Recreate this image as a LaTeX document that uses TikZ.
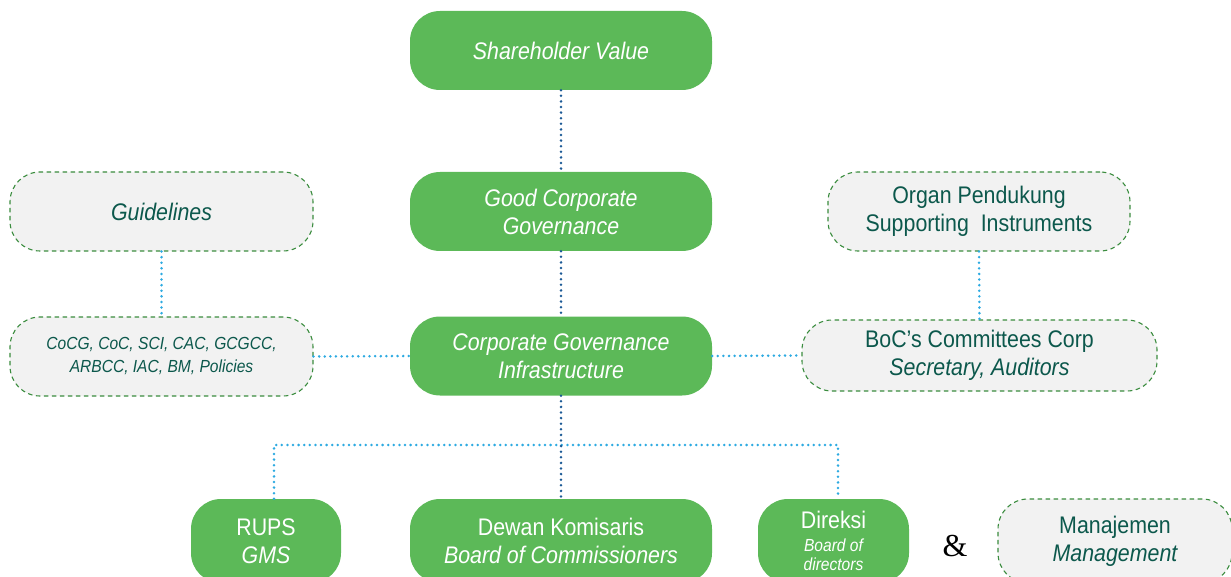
\documentclass[tikz,border=0pt]{standalone}
\usepackage{fontspec}
\setmainfont{Liberation Sans}[FakeStretch=0.89]
\newfontfamily\ampfont{Liberation Serif}
\definecolor{boxgreen}{RGB}{92,185,88}
\definecolor{dashgreen}{RGB}{58,140,62}
\definecolor{boxgray}{RGB}{242,242,242}
\definecolor{darktext}{RGB}{12,88,76}
\definecolor{darkdot}{RGB}{28,90,150}
\definecolor{lightdot}{RGB}{45,170,225}
\begin{document}
\begin{tikzpicture}[x=1pt,y=-1pt,
  gbox/.style={draw=none,fill=boxgreen,rounded corners=30pt,inner sep=0pt,
    text=white,align=center,font=\fontsize{24}{28}\selectfont\itshape},
  dbox/.style={draw=dashgreen,dash pattern=on 4.5pt off 3.5pt,line width=1.1pt,fill=boxgray,
    rounded corners=30pt,inner sep=0pt,text=darktext,align=center,font=\fontsize{24}{28}\selectfont},
  ddots/.style={draw=darkdot,line width=2.8pt,line cap=round,dash pattern=on 0pt off 5.6pt},
  ldots/.style={draw=lightdot,line width=2.8pt,line cap=round,dash pattern=on 0pt off 5.6pt}]
\useasboundingbox (0,0) rectangle (1231,577);
\clip (0,0) rectangle (1231,577);
% green boxes
\node[gbox,minimum width=302pt,minimum height=79pt] (sv) at (561,50.5) {Shareholder Value};
\node[gbox,minimum width=302pt,minimum height=79pt] (gcg) at (561,211.5) {Good Corporate\\Governance};
\node[gbox,minimum width=302pt,minimum height=79pt] (cgi) at (561,356) {Corporate Governance\\Infrastructure};
\node[gbox,minimum width=150pt,minimum height=84pt] (rups) at (266,541) {\upshape RUPS\\\itshape GMS};
\node[gbox,minimum width=302pt,minimum height=84pt] (dewan) at (561,541) {\upshape Dewan Komisaris\\\itshape Board of Commissioners};
\node[gbox,minimum width=151pt,minimum height=84pt,font=\fontsize{17.5}{18}\selectfont\itshape] (direksi) at (833.5,541)
  {\fontsize{24}{24}\selectfont\upshape Direksi\\[5pt]Board of\\[1.5pt]directors};
% gray dashed boxes
\node[dbox,minimum width=303pt,minimum height=79pt] (guide) at (161.5,211.5) {\itshape Guidelines};
\node[dbox,minimum width=303pt,minimum height=79pt,font=\fontsize{17.5}{23}\selectfont\itshape] (cocg) at (161.5,356.5)
  {CoCG, CoC, SCI, CAC, GCGCC,\\ARBCC, IAC, BM, Policies};
\node[dbox,minimum width=302pt,minimum height=79pt] (organ) at (979,211.5) {Organ Pendukung\\Supporting~~Instruments};
\node[dbox,minimum width=355pt,minimum height=71pt] (boc) at (979.5,355.5) {BoC’s Committees Corp\\\itshape Secretary, Auditors};
\node[dbox,minimum width=234pt,minimum height=84pt] (manaj) at (1115,541) {Manajemen\\\itshape Management};
\node[font=\ampfont\fontsize{32}{32}\selectfont,text=black] (amp) at (955,546) {\&};
% connectors
\draw[ddots] (sv.south) -- (gcg.north);
\draw[ddots] (gcg.south) -- (cgi.north);
\draw[ldots] (guide.south) -- (cocg.north);
\draw[ldots] (organ.south) -- (boc.north);
\draw[ldots] (cocg.east) -- (cgi.west);
\draw[ldots] (cgi.east) -- (boc.west);
\coordinate (jl) at (274,445);
\coordinate (jr) at (838,445);
\draw[ldots] (jl |- rups.north) -- (jl) -- (jr) -- (jr |- direksi.north);
\draw[ddots] (cgi.south) -- (dewan.north);
\end{tikzpicture}
\end{document}
